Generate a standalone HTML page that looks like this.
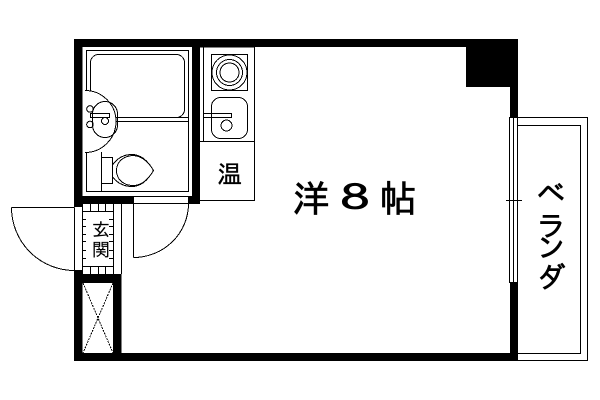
<!DOCTYPE html>
<html><head><meta charset="utf-8"><style>
html,body{margin:0;padding:0;background:#fff}
svg{display:block}
text{font-family:"IPAGothic","Noto Sans CJK JP",sans-serif;fill:#000;text-anchor:middle;stroke:#000;stroke-width:.35}
.b{stroke-width:.7}
</style></head><body>
<svg width="600" height="400" viewBox="0 0 600 400" xmlns="http://www.w3.org/2000/svg" shape-rendering="crispEdges">
<rect width="600" height="400" fill="#fff"/>
<!-- balcony -->
<g fill="none" stroke="#000">
<rect x="510.5" y="117.5" width="77" height="243"/>
<path d="M518 125.5H580.5V353.5H518"/>
</g>
<!-- walls -->
<g fill="#000">
<rect x="74" y="39" width="444" height="8"/>
<rect x="74" y="39" width="8.500" height="168"/>
<rect x="74" y="270" width="8.500" height="91"/>
<rect x="74" y="353" width="444" height="8"/>
<rect x="192" y="39" width="8" height="165"/>
<rect x="74" y="196" width="60" height="8"/>
<rect x="188" y="196" width="12" height="8"/>
<rect x="82" y="274" width="39" height="9"/>
<rect x="113" y="274" width="8.500" height="87"/>
<rect x="466" y="39" width="52" height="48"/>
<rect x="510" y="39" width="8" height="79"/>
<rect x="510" y="282" width="8" height="79"/>
</g>
<g fill="none" stroke="#000">
<!-- bath -->
<rect x="86.500" y="50.500" width="102" height="141"/>
<rect x="90.500" y="54.500" width="94" height="63" rx="8"/>
<path d="M86 121.500H189M118 117.500H189"/>
<path d="M85 90.500A31 31 0 0 1 85 152.500" fill="#fff"/>
<rect x="92.500" y="101.500" width="25" height="36" rx="12.500"/>
<rect x="90.500" y="113.500" width="19" height="4"/>
<circle cx="105" cy="121" r="3.500"/>
<circle cx="90" cy="109" r="3.300"/>
<circle cx="90" cy="124.500" r="3.300"/>
<path d="M101.500 152V192"/>
<path d="M101.500 157.500H112.500V183.500H101.500"/>
<path d="M112.500 165C118 157 125 154.500 132 154.500C141 154.500 148 161 153.500 170.500C148 180 141 186.500 132 186.500C125 186.500 118 184 112.500 177"/>
<path d="M116.500 170.500C116.500 162 123 156.500 132 155.500C141 155.500 148 161 153.500 170.500C148 180 141 186 132 185.500C123 185 116.500 179 116.500 170.500Z"/>
<!-- kitchen -->
<path d="M200 47H254.500V200.500H192M200 141.500H254.500M203.500 47V141.500"/>
<rect x="211.500" y="54.500" width="36" height="36"/>
<circle cx="229.500" cy="72.500" r="17.500"/>
<circle cx="229.500" cy="72.500" r="13"/>
<circle cx="229.500" cy="72.500" r="9.500"/>
<rect x="211.500" y="97.500" width="36" height="41" rx="9"/>
<rect x="203.500" y="113.500" width="28" height="4"/>
<circle cx="226.500" cy="125.500" r="5.500"/>
<!-- doors -->
<path d="M134 196.500H188.500M134 203.500H188.500"/>
<path d="M74.500 207.500V270.500M82.500 204V274M11.500 207.500H74.500M11.500 207.500A63 63 0 0 0 74.500 270.500"/>
<path d="M133.500 204V257.500M188.500 204A55 54 0 0 1 133.500 257.500"/>
<!-- entry -->
<path d="M113.500 204V274M121.500 204V274"/>
<path d="M82 211.500H113M82 266.500H113"/>
<path d="M90.500 204V211M98.500 204V211M105.500 204V211M90.500 267V274M98.500 267V274M105.500 267V274"/>
<path d="M82 219.500H86M82 226.500H86M82 234.500H86M82 241.500H86M82 250.500H86M82 258.500H86M109 219.500H113M109 226.500H113M109 234.500H113M109 241.500H113M109 250.500H113M109 258.500H113"/>
<!-- closet -->
<path d="M83 283L113 353M113 283L83 353" stroke-dasharray="2 1"/>
<!-- window -->
<path d="M509.500 117.500V282.500M513.500 117.500V282.500M517.500 117.500V282.500M509 117.500H518M509 282.500H518"/>
</g>
<rect x="510" y="118" width="3" height="164" fill="#fff"/>
<rect x="514" y="118" width="3" height="164" fill="#fff"/>
<path d="M506 200.500H522" stroke="#000" fill="none"/>
<!-- labels -->
<text x="229.500" y="183" font-size="25">温</text>
<text x="311" y="212" font-size="37" class="b">洋</text>
<text transform="translate(355 210) scale(1.65 1)" font-size="35" class="b">8</text>
<text x="398" y="212" font-size="37" class="b">帖</text>
<text x="101" y="236" font-size="18" style="stroke-width:.1">玄</text>
<text x="101" y="256" font-size="18" style="stroke-width:.1">関</text>
<text x="551" y="204" font-size="29" class="b">ベ</text>
<text x="551" y="236" font-size="29" class="b">ラ</text>
<text x="551" y="258" font-size="29" class="b">ン</text>
<text x="551" y="288" font-size="29" class="b">ダ</text>
</svg>
</body></html>
